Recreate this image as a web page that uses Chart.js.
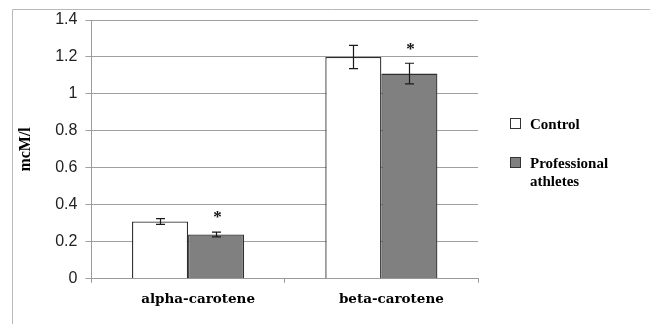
<!DOCTYPE html>
<html>
<head>
<meta charset="utf-8">
<script src="https://cdn.jsdelivr.net/npm/chart.js@4"></script>
<style>
  html, body { margin: 0; padding: 0; background: #ffffff; }
  #wrap { width: 650px; height: 324px; position: relative; }
</style>
</head>
<body>
<div id="wrap"><canvas id="chart" width="650" height="324"></canvas></div>
<script>
// Plasma carotenoid levels (mcM/l), control vs professional athletes
const categories = ['alpha-carotene', 'beta-carotene'];
const seriesNames = ['Control', 'Professional athletes'];
const controlValues = [0.31, 1.20];
const athleteValues = [0.24, 1.11];
const controlErrors = [0.016, 0.063];
const athleteErrors = [0.013, 0.056];
const athleteMarks = ['*', '*'];
const yTicks = [0, 0.2, 0.4, 0.6, 0.8, 1, 1.2, 1.4];

const errors = [controlErrors, athleteErrors];
const marks = [null, athleteMarks];

const SERIF_BOLD = 'bold 15px "Liberation Serif", serif';

// Light frame around the whole figure
const framePlugin = {
  id: 'frame',
  beforeDraw(chart) {
    const ctx = chart.ctx;
    ctx.save();
    ctx.strokeStyle = '#b8b8b8';
    ctx.lineWidth = 1;
    ctx.beginPath();
    ctx.moveTo(12.5, 330);
    ctx.lineTo(12.5, 9.5);
    ctx.lineTo(660, 9.5);
    ctx.stroke();
    ctx.restore();
  }
};

// Error bars and significance marks
const errorBarPlugin = {
  id: 'errorBars',
  afterDatasetsDraw(chart) {
    const ctx = chart.ctx;
    const y = chart.scales.y;
    ctx.save();
    chart.data.datasets.forEach((ds, di) => {
      const meta = chart.getDatasetMeta(di);
      meta.data.forEach((bar, i) => {
        const v = ds.data[i];
        const e = errors[di][i];
        const x = Math.round(bar.x) + 0.5;
        const yTop = y.getPixelForValue(v + e);
        const yBot = y.getPixelForValue(v - e);
        ctx.strokeStyle = '#1a1a1a';
        ctx.lineWidth = 1.2;
        ctx.beginPath();
        ctx.moveTo(x, yTop);
        ctx.lineTo(x, yBot);
        ctx.moveTo(x - 4.5, yTop);
        ctx.lineTo(x + 4.5, yTop);
        ctx.moveTo(x - 4.5, yBot);
        ctx.lineTo(x + 4.5, yBot);
        ctx.stroke();
        if (marks[di] && marks[di][i]) {
          ctx.fillStyle = '#111111';
          ctx.font = 'bold 17px "Liberation Serif", serif';
          ctx.textAlign = 'center';
          ctx.textBaseline = 'middle';
          ctx.fillText(marks[di][i], x + 1, yTop - 14);
        }
      });
    });
    ctx.restore();
  }
};

// Legend on the right, with wrapped second entry
const sideLegendPlugin = {
  id: 'sideLegend',
  afterDraw(chart) {
    const ctx = chart.ctx;
    ctx.save();
    ctx.font = SERIF_BOLD;
    ctx.textAlign = 'left';
    ctx.textBaseline = 'middle';
    const entries = [
      { lines: ['Control'], y: 125 },
      { lines: ['Professional', 'athletes'], y: 164 }
    ];
    entries.forEach((en, i) => {
      const ds = chart.data.datasets[i];
      ctx.fillStyle = ds.backgroundColor;
      ctx.fillRect(510.5, en.y - 6.5, 10, 10);
      ctx.strokeStyle = '#333333';
      ctx.lineWidth = 1;
      ctx.strokeRect(510.5, en.y - 6.5, 10, 10);
      ctx.fillStyle = '#000000';
      en.lines.forEach((ln, k) => {
        ctx.fillText(ln, 530, en.y + k * 18);
      });
    });
    ctx.restore();
  }
};

new Chart(document.getElementById('chart'), {
  type: 'bar',
  data: {
    labels: categories,
    datasets: [
      {
        label: seriesNames[0],
        data: controlValues,
        backgroundColor: '#ffffff',
        borderColor: '#2e2e2e',
        borderWidth: 1.3,
        categoryPercentage: 0.58,
        barPercentage: 1
      },
      {
        label: seriesNames[1],
        data: athleteValues,
        backgroundColor: '#808080',
        borderColor: '#2e2e2e',
        borderWidth: 1.3,
        categoryPercentage: 0.58,
        barPercentage: 1
      }
    ]
  },
  options: {
    responsive: false,
    animation: false,
    layout: { padding: { left: 16, right: 172, top: 20, bottom: 7 } },
    plugins: {
      legend: { display: false },
      tooltip: { enabled: false }
    },
    scales: {
      x: {
        grid: {
          display: true,
          drawOnChartArea: false,
          drawTicks: true,
          tickLength: 4,
          color: '#9a9a9a',
          offset: true
        },
        border: { display: true, color: '#9a9a9a' },
        ticks: {
          color: '#000000',
          font: { family: '"DejaVu Serif", serif', weight: 'bold', size: 13.5 },
          padding: 9,
          labelOffset: 10
        }
      },
      y: {
        min: 0,
        max: 1.4,
        afterBuildTicks(scale) {
          scale.ticks = yTicks.map(v => ({ value: v }));
        },
        grid: {
          color: '#a0a0a0',
          lineWidth: 1,
          tickLength: 6,
          drawTicks: true
        },
        border: { display: true, color: '#9a9a9a' },
        ticks: {
          color: '#222222',
          font: { family: '"Liberation Sans", Arial, sans-serif', size: 16 },
          padding: 8,
          callback: (value) => String(Math.round(value * 10) / 10)
        },
        title: {
          display: true,
          text: 'mcM/l',
          color: '#000000',
          font: { family: '"Liberation Serif", serif', weight: 'bold', size: 16 },
          padding: { top: 0, bottom: 12 }
        }
      }
    }
  },
  plugins: [framePlugin, errorBarPlugin, sideLegendPlugin]
});
</script>
</body>
</html>
